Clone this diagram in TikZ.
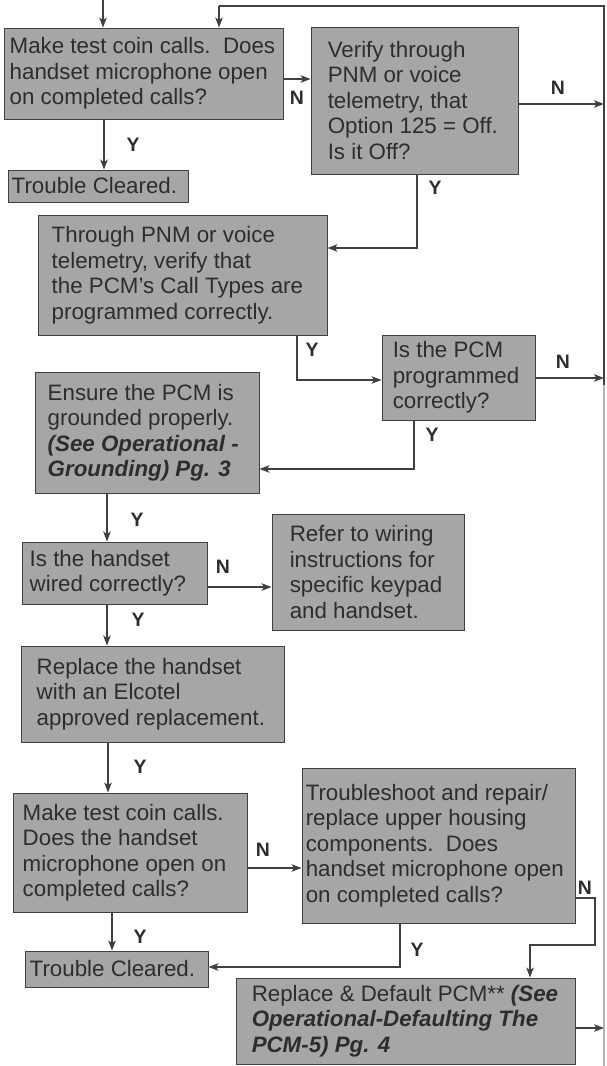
\documentclass[tikz,border=0pt]{standalone}
\usepackage{fontspec}
\setmainfont{Liberation Sans}
\usetikzlibrary{arrows.meta,fit}

\definecolor{boxfill}{RGB}{166,166,166}
\definecolor{ink}{RGB}{45,45,45}
\definecolor{wire}{RGB}{64,64,64}

\tikzset{
  fcbox/.style={draw=wire, line width=0.9bp, fill=boxfill, inner sep=0pt},
  fctext/.style={anchor=west, align=left, inner sep=0pt, text=ink,
                 font=\fontsize{22.4}{25.6}\selectfont},
  yn/.style={text=ink, inner sep=0pt, font=\fontsize{19.5}{19.5}\selectfont\bfseries},
  link/.style={draw=wire, line width=1.3bp},
  arr/.style={link, -{Stealth[length=10bp,width=7.5bp,inset=2.5bp]}},
}
\newcommand{\bi}[1]{\textbf{\textit{#1}}}

\begin{document}
\begin{tikzpicture}[x=1bp,y=-1bp]
\useasboundingbox (0,0) rectangle (607,1066);

% ---------- boxes ----------
\node[fcbox, fit={(4,28) (283,119)}] (b1) {};
\node[fctext] (t1) at ([xshift=6bp]b1.west)
  {Make test coin calls.\ \ Does\\handset microphone open\\on completed calls?};

\node[fcbox, fit={(8,170) (188,202)}] (c1) {};
\node[fctext] (tc1) at ([xshift=4bp]c1.west) {Trouble Cleared.};

\node[fcbox, fit={(311,27) (518,174)}] (b2) {};
\node[fctext] (t2) at ([xshift=17bp]b2.west)
  {Verify through\\PNM or voice\\telemetry, that\\Option 125 = Off.\\Is it Off?};

\node[fcbox, fit={(38,215) (327,335)}] (b3) {};
\node[fctext] (t3) at ([xshift=14bp]b3.west)
  {Through PNM or voice\\telemetry, verify that\\the PCM’s Call Types are\\programmed correctly.};

\node[fcbox, fit={(382,335) (535,420)}] (b4) {};
\node[fctext] (t4) at ([xshift=11bp]b4.west)
  {Is the PCM\\programmed\\correctly?};

\node[fcbox, fit={(35,372) (259,493)}] (b5) {};
\node[fctext] (t5) at ([xshift=13bp]b5.west)
  {Ensure the PCM is\\grounded properly.\\\bi{(See Operational -}\\\bi{Grounding) Pg. 3}};

\node[fcbox, fit={(22,542) (207,604)}] (b6) {};
\node[fctext] (t6) at ([xshift=8bp]b6.west)
  {Is the handset\\wired correctly?};

\node[fcbox, fit={(272,514) (464,630)}] (b7) {};
\node[fctext] (t7) at ([xshift=18bp]b7.west)
  {Refer to wiring\\instructions for\\specific keypad\\and handset.};

\node[fcbox, fit={(21,646) (284,742)}] (b8) {};
\node[fctext] (t8) at ([xshift=16bp]b8.west)
  {Replace the handset\\with an Elcotel\\approved replacement.};

\node[fcbox, fit={(13,793) (247,912)}] (b9) {};
\node[fctext] (t9) at ([xshift=10bp]b9.west)
  {Make test coin calls.\\Does the handset\\microphone open on\\completed calls?};

\node[fcbox, fit={(302,768) (575,923)}] (b10) {};
\node[fctext] (t10) at ([xshift=4bp]b10.west)
  {Troubleshoot and repair/\\replace upper housing\\components.\ \ Does\\handset microphone open\\on completed calls?};

\node[fcbox, fit={(25,951) (208,987)}] (c2) {};
\node[fctext] (tc2) at ([xshift=5bp]c2.west) {Trouble Cleared.};

\node[fcbox, fit={(236,978) (575,1064)}] (b12) {};
\node[fctext] (t12) at ([xshift=16bp]b12.west)
  {Replace \& Default PCM** \bi{(See}\\\bi{Operational-Defaulting The}\\\bi{PCM-5) Pg. 4}};

% ---------- free ends ----------
\coordinate (in0) at (103,0);
\coordinate (railtop) at (604,6);
\coordinate (loop) at (219,6);
\coordinate (railmid) at (604,385);
\coordinate (railbot) at (604,1066);

% return rail on the right
\draw[link] (railmid) -- (railtop) -- (loop);
\draw[link, draw=wire!40] (railmid) -- (railbot);

% ---------- connectors ----------
\draw[arr] (in0) -- (in0 |- b1.north);
\draw[arr] (loop) -- (loop |- b1.north);

\draw[arr] (b1.east |- 0,79) -- (b2.west |- 0,79);
\draw[arr] (b1.south -| 104,0) -- (c1.north -| 104,0);

\draw[arr] (b2.east |- 0,104) -- (railtop |- 0,104);
\draw[arr] (b2.south -| 417,0) -- (417,248) -- (b3.east |- 0,248);

\draw[arr] (b3.south -| 297,0) -- (297,380) -- (b4.west |- 0,380);
\draw[arr] (b4.east |- 0,378) -- (railtop |- 0,378);
\draw[arr] (b4.south -| 414,0) -- (414,469) -- (b5.east |- 0,469);

\draw[arr] (b5.south -| 107,0) -- (b6.north -| 107,0);
\draw[arr] (b6.east |- 0,587) -- (b7.west |- 0,587);
\draw[arr] (b6.south -| 107,0) -- (b8.north -| 107,0);
\draw[arr] (b8.south -| 108,0) -- (b9.north -| 108,0);

\draw[arr] (b9.east |- 0,868) -- (b10.west |- 0,868);
\draw[arr] (b9.south -| 112,0) -- (c2.north -| 112,0);

\draw[arr] (b10.east |- 0,898) -- (595,898) -- (595,945) -- (530,945) -- (b12.north -| 530,0);
\draw[arr] (b10.south -| 400,0) -- (400,967) -- (c2.east |- 0,967);

\draw[arr] (b12.east |- 0,1028) -- (railtop |- 0,1028);

% ---------- Y / N labels ----------
\node[yn] (n1) at (297,98) {N};
\node[yn] (y1) at (133,145) {Y};
\node[yn] (n2) at (558,88) {N};
\node[yn] (y2) at (435,188) {Y};
\node[yn] (y3) at (312,350) {Y};
\node[yn] (n3) at (563,362) {N};
\node[yn] (y4) at (432,435) {Y};
\node[yn] (y5) at (137,520) {Y};
\node[yn] (n4) at (223,567) {N};
\node[yn] (y6) at (138,620) {Y};
\node[yn] (y7) at (140,767) {Y};
\node[yn] (n5) at (263,850) {N};
\node[yn] (n6) at (585,888) {N};
\node[yn] (y8) at (417,950) {Y};
\node[yn] (y9) at (140,937) {Y};
\end{tikzpicture}
\end{document}
